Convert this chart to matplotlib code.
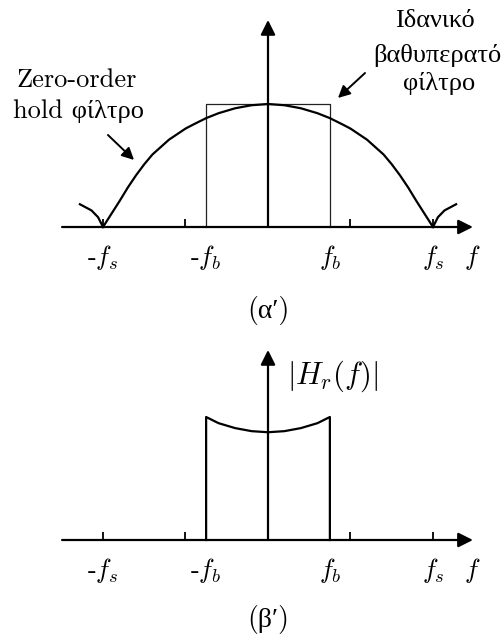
import numpy as np
import matplotlib
matplotlib.use('Agg')
import matplotlib.pyplot as plt

plt.rcParams['mathtext.fontset'] = 'cm'

# frequencies in units of fs
fb = 0.375
tick_f = [-1.0, -0.5, 0.5, 1.0]
label_f = [-1.0, -fb, fb, 1.0]
label_txt = [r'-$f_s$', r'-$f_b$', r'$f_b$', r'$f_s$']

# zero-order hold magnitude, right half (main lobe)
zoh_f = [0.0, 0.1, 0.2, 0.3, 0.375, 0.45, 0.5, 0.55, 0.6, 0.65, 0.7,
         0.75, 0.8, 0.85, 0.9, 0.95, 1.0]
zoh_h = [1.0, 0.99, 0.965, 0.925, 0.885, 0.835, 0.80, 0.755, 0.71, 0.65,
         0.59, 0.51, 0.42, 0.32, 0.21, 0.105, 0.0]
# start of the first side lobe past fs
side_f = [1.0, 1.03, 1.07, 1.14]
side_h = [0.0, 0.08, 0.135, 0.185]

# reconstruction filter |Hr(f)| inside the passband, right half
hr_f = [0.0, 0.1, 0.2, 0.3, 0.375]
hr_h = [0.876, 0.885, 0.91, 0.95, 1.0]

# annotation lines: (x, baseline y, text)
zoh_lines = [(-1.158, 1.141, 'Zero-order'), (-1.150, 0.884, 'hold φίλτρο')]
lpf_lines = [(1.009, 1.622, 'Ιδανικό'), (1.024, 1.341, 'βαθυπερατό'),
             (1.036, 1.114, 'φίλτρο')]

LW = 1.6
serif = ['cmr10', 'Liberation Serif']


def mirror(f, h):
    f = np.asarray(f)
    h = np.asarray(h)
    return np.concatenate([-f[::-1], f[1:]]), np.concatenate([h[::-1], h[1:]])


def arrow(ax, tip, tail, lw=LW, ms=20):
    ax.annotate('', xy=tip, xytext=tail,
                arrowprops=dict(arrowstyle='-|>', lw=lw, color='k',
                                mutation_scale=ms, shrinkA=0, shrinkB=0))


def draw_axes(ax, ytop, ticks):
    arrow(ax, (1.242, 0), (-1.248, 0), ms=22)
    arrow(ax, (0, ytop), (0, 0), ms=22)
    ax.vlines(ticks, 0, 0.065, color='k', lw=1.3)
    for x, t in zip(label_f, label_txt):
        ax.text(x, -0.244, t, ha='center', va='center', fontsize=19,
                family=serif)
    ax.text(1.236, -0.244, r'$f$', ha='center', va='center', fontsize=19)


fig = plt.figure(figsize=(5.03, 6.35), dpi=100)
xlim = (-268 / 165, 235 / 165)

# (a) zero-order hold vs ideal low-pass
ax1 = fig.add_axes([0, 1 - 320 / 635, 1, 320 / 635])
ax1.set_xlim(*xlim)
ax1.set_ylim(-93 / 123, 227 / 123)
ax1.axis('off')

ax1.plot([-fb, -fb, fb, fb], [0, 1, 1, 0], color='#222222', lw=0.9)
mf, mh = mirror(zoh_f, zoh_h)
ax1.plot(mf, mh, color='k', lw=LW, solid_joinstyle='round')
for sgn in (-1, 1):
    ax1.plot(sgn * np.asarray(side_f), side_h, color='k', lw=LW)
draw_axes(ax1, 1.683, tick_f)

for x, y, t in zoh_lines + lpf_lines:
    ax1.text(x, y, t, ha='center', va='baseline', fontsize=19, family=serif)
arrow(ax1, (-0.812, 0.545), (-0.97, 0.748), lw=1.4, ms=18)
arrow(ax1, (0.424, 1.049), (0.588, 1.252), lw=1.4, ms=18)
ax1.text(0, -0.675, '(α′)', ha='center', va='center', fontsize=20,
         family=serif)

# (b) resulting reconstruction filter
ax2 = fig.add_axes([0, 0, 1, 315 / 635])
ax2.set_xlim(*xlim)
ax2.set_ylim(-95 / 123, 220 / 123)
ax2.axis('off')

hf, hh = mirror(hr_f, hr_h)
ax2.plot(np.concatenate([[-fb], hf, [fb]]), np.concatenate([[0], hh, [0]]),
         color='k', lw=LW)
draw_axes(ax2, 1.545, tick_f)
ax2.text(0.115, 1.27, r'$|H_r(f)|$', ha='left', va='baseline', fontsize=22)
ax2.text(0, -0.65, '(β′)', ha='center', va='center', fontsize=20,
         family=serif)

fig.savefig('out.png', dpi=100)
